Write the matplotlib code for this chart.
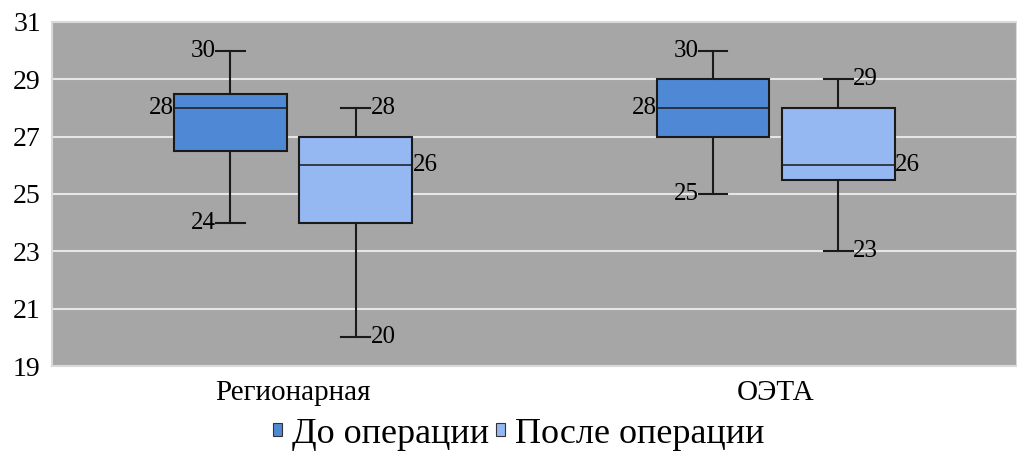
import matplotlib
matplotlib.use("Agg")
import matplotlib.pyplot as plt
from matplotlib.patches import Patch

plt.rcParams['font.family'] = ['Liberation Serif', 'DejaVu Serif']

categories = ["Регионарная", "ОЭТА"]
series = ["До операции", "После операции"]
colors = ["#4F89D6", "#95B8F2"]
# per series, per category: min, q1, median, q3, max
whislo = [[24, 25], [20, 23]]
q1 = [[26.5, 27], [24, 25.5]]
med = [[28, 28], [26, 26]]
q3 = [[28.5, 29], [27, 28]]
whishi = [[30, 30], [28, 29]]
yticks = [19, 21, 23, 25, 27, 29, 31]

fig = plt.figure(figsize=(10.17, 4.63), dpi=100)
ax = fig.add_axes([0.0511, 0.2095, 0.9489, 0.7430])
ax.set_facecolor("#A6A6A6")
for sp in ax.spines.values():
    sp.set_color("#D9D9D9")
    sp.set_linewidth(1.5)

offsets = [-0.13, 0.13]
width = 0.234
fs_ann = 18
for s in range(2):
    stats = []
    for c in range(2):
        stats.append(dict(whislo=whislo[s][c], q1=q1[s][c], med=med[s][c],
                          q3=q3[s][c], whishi=whishi[s][c], fliers=[]))
    pos = [c + offsets[s] for c in range(2)]
    ax.bxp(stats, positions=pos, widths=width, capwidths=0.06, patch_artist=True,
           showfliers=False,
           boxprops=dict(facecolor=colors[s], edgecolor="#1a1a1a", linewidth=1.5),
           medianprops=dict(color="#1a1a1a", linewidth=1.1),
           whiskerprops=dict(color="#1a1a1a", linewidth=1.5),
           capprops=dict(color="#1a1a1a", linewidth=1.5), zorder=3)
    for c in range(2):
        x = pos[c]
        if s == 0:
            ax.text(x - 0.03, whishi[s][c], str(whishi[s][c]), ha="right", va="center", fontsize=fs_ann, zorder=4)
            ax.text(x - 0.03, whislo[s][c], str(whislo[s][c]), ha="right", va="center", fontsize=fs_ann, zorder=4)
            ax.text(x - width / 2, med[s][c], str(med[s][c]), ha="right", va="center", fontsize=fs_ann, zorder=4)
        else:
            ax.text(x + 0.03, whishi[s][c], str(whishi[s][c]), ha="left", va="center", fontsize=fs_ann, zorder=4)
            ax.text(x + 0.03, whislo[s][c], str(whislo[s][c]), ha="left", va="center", fontsize=fs_ann, zorder=4)
            ax.text(x + width / 2, med[s][c], str(med[s][c]), ha="left", va="center", fontsize=fs_ann, zorder=4)

ax.set_xlim(-0.5, 1.5)
ax.set_ylim(19, 31)
ax.set_yticks(yticks)
ax.set_yticklabels([str(v) for v in yticks], fontsize=20)
ax.set_xticks(range(len(categories)))
ax.set_xticklabels(categories, fontsize=21)
ax.tick_params(axis="both", length=0)
ax.tick_params(axis="y", pad=8)
ax.tick_params(axis="x", pad=10)
ax.yaxis.grid(True, color="#E6E6E6", linewidth=1.5, zorder=0)
ax.set_axisbelow(True)

handles = [Patch(facecolor=colors[i], edgecolor="#333333", linewidth=0.8, label=series[i]) for i in range(2)]
fig.legend(handles=handles, loc="center", bbox_to_anchor=(0.51, 0.062), ncol=2, frameon=False,
           fontsize=26, handlelength=0.25, handleheight=0.15, handletextpad=0.28, columnspacing=0.2)

fig.savefig("out.png", dpi=100, facecolor="white")
